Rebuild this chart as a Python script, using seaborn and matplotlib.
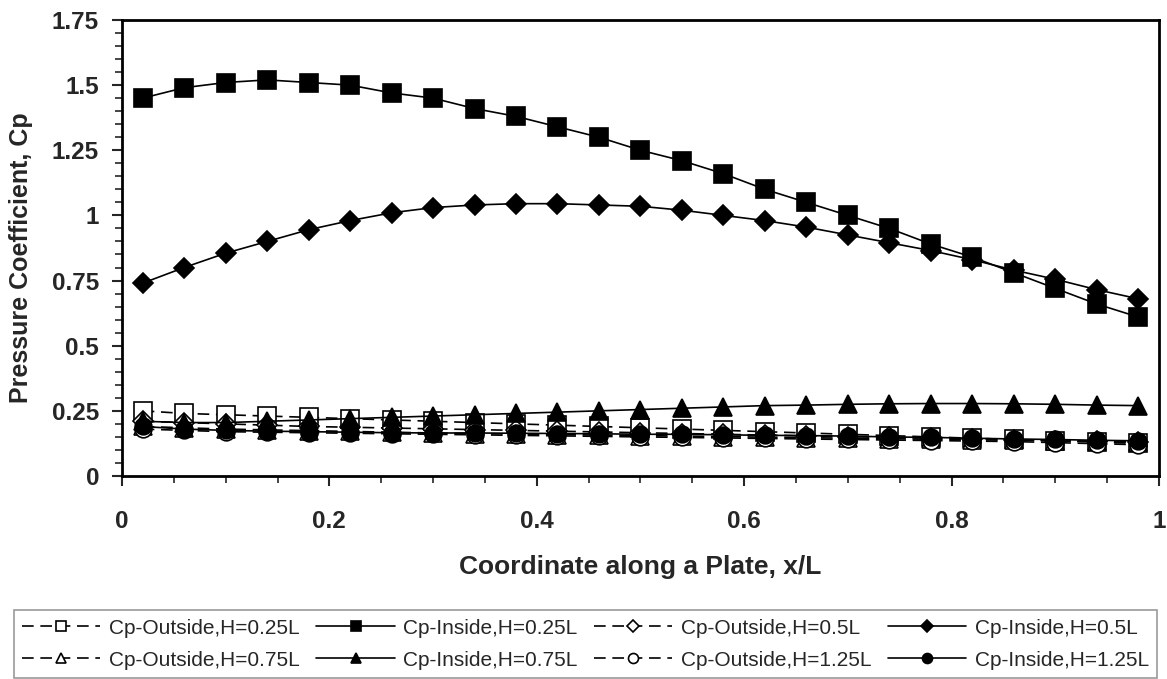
import numpy as np
import pandas as pd
import seaborn as sns
import matplotlib
matplotlib.use('Agg')
import matplotlib.pyplot as plt
from matplotlib.ticker import MultipleLocator, FuncFormatter

# x/L positions along the plate
x_pos = [0.02, 0.06, 0.10, 0.14, 0.18, 0.22, 0.26, 0.30, 0.34, 0.38, 0.42, 0.46, 0.50,
         0.54, 0.58, 0.62, 0.66, 0.70, 0.74, 0.78, 0.82, 0.86, 0.90, 0.94, 0.98]

cp_out_025 = [0.25, 0.24, 0.235, 0.23, 0.225, 0.22, 0.215, 0.21, 0.205, 0.20, 0.195, 0.19, 0.185,
              0.18, 0.175, 0.17, 0.165, 0.16, 0.155, 0.15, 0.145, 0.14, 0.135, 0.13, 0.125]
cp_in_025 = [1.45, 1.49, 1.51, 1.52, 1.51, 1.50, 1.47, 1.45, 1.41, 1.38, 1.34, 1.30, 1.25,
             1.21, 1.16, 1.10, 1.05, 1.00, 0.95, 0.89, 0.84, 0.78, 0.72, 0.66, 0.61]
cp_out_05 = [0.21, 0.205, 0.20, 0.195, 0.19, 0.187, 0.184, 0.181, 0.178, 0.175, 0.172, 0.169, 0.166,
             0.163, 0.16, 0.157, 0.154, 0.151, 0.148, 0.145, 0.142, 0.139, 0.136, 0.133, 0.13]
cp_in_05 = [0.74, 0.80, 0.855, 0.90, 0.945, 0.98, 1.01, 1.03, 1.04, 1.045, 1.045, 1.04, 1.035,
            1.02, 1.00, 0.98, 0.955, 0.925, 0.895, 0.865, 0.83, 0.79, 0.755, 0.715, 0.68]
cp_out_075 = [0.19, 0.185, 0.18, 0.177, 0.174, 0.171, 0.168, 0.165, 0.163, 0.161, 0.159, 0.157, 0.155,
              0.153, 0.151, 0.149, 0.147, 0.145, 0.143, 0.141, 0.139, 0.137, 0.135, 0.133, 0.13]
cp_in_075 = [0.21, 0.205, 0.205, 0.21, 0.215, 0.22, 0.225, 0.23, 0.235, 0.24, 0.245, 0.25, 0.255,
             0.26, 0.265, 0.27, 0.272, 0.275, 0.277, 0.278, 0.278, 0.277, 0.275, 0.272, 0.27]
cp_out_125 = [0.18, 0.175, 0.17, 0.168, 0.166, 0.164, 0.162, 0.16, 0.158, 0.156, 0.154, 0.152, 0.15,
              0.148, 0.146, 0.144, 0.142, 0.14, 0.138, 0.136, 0.134, 0.132, 0.128, 0.124, 0.12]
cp_in_125 = [0.19, 0.18, 0.175, 0.172, 0.17, 0.168, 0.166, 0.165, 0.165, 0.164, 0.163, 0.162, 0.16,
             0.16, 0.158, 0.156, 0.155, 0.153, 0.15, 0.148, 0.145, 0.142, 0.14, 0.137, 0.135]

series = [
    ('Cp-Outside,H=0.25L', cp_out_025, 's', False),
    ('Cp-Inside,H=0.25L', cp_in_025, 's', True),
    ('Cp-Outside,H=0.5L', cp_out_05, 'D', False),
    ('Cp-Inside,H=0.5L', cp_in_05, 'D', True),
    ('Cp-Outside,H=0.75L', cp_out_075, '^', False),
    ('Cp-Inside,H=0.75L', cp_in_075, '^', True),
    ('Cp-Outside,H=1.25L', cp_out_125, 'o', False),
    ('Cp-Inside,H=1.25L', cp_in_125, 'o', True),
]
msize = {'s': 13, 'D': 10.5, '^': 13, 'o': 12}

sns.set_style('white')
plt.rcParams['font.family'] = ['Liberation Sans', 'DejaVu Sans']

fig = plt.figure(figsize=(11.67, 6.79), dpi=100)
ax = fig.add_axes([0.1045, 0.299, 0.8886, 0.6716])

for name, vals, mk, filled in series:
    df = pd.DataFrame({'x': x_pos, 'cp': vals})
    sns.lineplot(data=df, x='x', y='cp', ax=ax, color='black', lw=1.2,
                 marker=mk, markersize=msize[mk],
                 markerfacecolor='black' if filled else 'white',
                 markeredgecolor='black', markeredgewidth=1.2,
                 linestyle='-' if filled else (0, (7, 4)), label=name)

h, l = ax.get_legend_handles_labels()
if ax.get_legend() is not None:
    ax.get_legend().remove()

ax.set_xlim(0, 1)
ax.set_ylim(0, 1.75)
ax.xaxis.set_major_locator(MultipleLocator(0.2))
ax.xaxis.set_minor_locator(MultipleLocator(0.05))
ax.yaxis.set_major_locator(MultipleLocator(0.25))
ax.yaxis.set_minor_locator(MultipleLocator(0.05))
fmt = FuncFormatter(lambda v, p: ('%g' % round(v, 2)))
ax.xaxis.set_major_formatter(fmt)
ax.yaxis.set_major_formatter(fmt)
ax.tick_params(which='major', direction='out', length=7.5, width=1.5, labelsize=17.5)
ax.tick_params(which='minor', direction='out', length=5, width=1.2)
ax.tick_params(axis='x', which='major', pad=17)
ax.tick_params(axis='y', which='major', pad=9)
ax.tick_params(axis='both', which='both', bottom=True, left=True)
for lab in ax.get_xticklabels() + ax.get_yticklabels():
    lab.set_fontweight('bold')
for sp in ax.spines.values():
    sp.set_color('black')
    sp.set_linewidth(2)

ax.set_xlabel('Coordinate along a Plate, x/L', fontsize=19, fontweight='bold', labelpad=16)
ax.set_ylabel('Pressure Coefficient, Cp', fontsize=18, fontweight='bold')
ax.yaxis.set_label_coords(-0.086, 0.478)

order = [0, 4, 1, 5, 2, 6, 3, 7]
leg = fig.legend([h[i] for i in order], [l[i] for i in order], ncol=4,
                 loc='lower left', bbox_to_anchor=(14 / 1167, 1 / 679, 1143 / 1167, 67 / 679),
                 mode='expand', borderaxespad=0, fontsize=15,
                 handlelength=3.75, handletextpad=0.4, columnspacing=0.6,
                 frameon=True, fancybox=False, edgecolor='#808080',
                 borderpad=0.4, labelspacing=0.62, markerscale=0.6)
leg.get_frame().set_linewidth(1.2)

fig.savefig('out.png', dpi=100)
